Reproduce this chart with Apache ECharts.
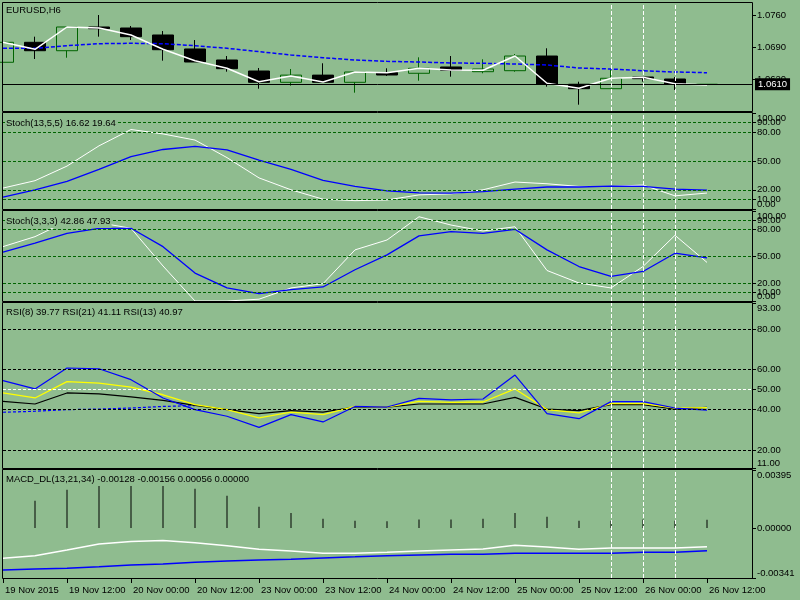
<!DOCTYPE html>
<html>
<head>
<meta charset="utf-8">
<title>EURUSD,H6</title>
<script src="https://cdn.jsdelivr.net/npm/echarts@6/dist/echarts.min.js"></script>
<style>
  html, body { margin: 0; padding: 0; background: #8fbc8f; }
  #main { width: 800px; height: 600px; }
</style>
</head>
<body>
<div id="main"></div>
<script>
// H6 bars, 19 Nov 2015 .. 26 Nov 12:00
const barTimes = [
  '19 Nov 2015', '19 Nov 06:00', '19 Nov 12:00', '19 Nov 18:00',
  '20 Nov 00:00', '20 Nov 06:00', '20 Nov 12:00', '20 Nov 18:00',
  '23 Nov 00:00', '23 Nov 06:00', '23 Nov 12:00', '23 Nov 18:00',
  '24 Nov 00:00', '24 Nov 06:00', '24 Nov 12:00', '24 Nov 18:00',
  '25 Nov 00:00', '25 Nov 06:00', '25 Nov 12:00', '25 Nov 18:00',
  '26 Nov 00:00', '26 Nov 06:00', '26 Nov 12:00'
]
const xTicks = [0, 2, 4, 6, 8, 10, 12, 14, 16, 18, 20, 22]
const vLineBars = [19, 20, 21]  // vertical dashed lines

// price
const opens  = [1.06581, 1.07018, 1.06834, 1.07353, 1.07331, 1.07178, 1.06872, 1.06631, 1.06390, 1.06143, 1.06300, 1.06143, 1.06353, 1.06340, 1.06478, 1.06375, 1.06397, 1.06718, 1.06100, 1.06003, 1.06259, 1.06215, 1.06095]
const closes = [1.07018, 1.06834, 1.07353, 1.07316, 1.07141, 1.06856, 1.06587, 1.06441, 1.06143, 1.06300, 1.06143, 1.06368, 1.06303, 1.06449, 1.06406, 1.06434, 1.06718, 1.06100, 1.06003, 1.06231, 1.06222, 1.06106, 1.06100]
const lows   = [1.06581, 1.06653, 1.06681, 1.07141, 1.07068, 1.06616, 1.06587, 1.06375, 1.06003, 1.06069, 1.06143, 1.05916, 1.06281, 1.06178, 1.06266, 1.06340, 1.06375, 1.06047, 1.05653, 1.06003, 1.06156, 1.05975, 1.06095]
const highs  = [1.07018, 1.07141, 1.07353, 1.07615, 1.07375, 1.07265, 1.07068, 1.06718, 1.06456, 1.06434, 1.06559, 1.06368, 1.06449, 1.06690, 1.06718, 1.06646, 1.06762, 1.06887, 1.06156, 1.06427, 1.06259, 1.06259, 1.06100]
const fastMa = [1.07018, 1.06865, 1.07353, 1.07331, 1.07178, 1.06865, 1.06616, 1.06449, 1.06156, 1.06281, 1.06150, 1.06368, 1.06353, 1.06449, 1.06412, 1.06406, 1.06718, 1.06121, 1.06012, 1.06231, 1.06252, 1.06112, 1.06084]
const slowMa = [1.06887, 1.06887, 1.06944, 1.06988, 1.06996, 1.06988, 1.06944, 1.06887, 1.06813, 1.06740, 1.06681, 1.06631, 1.06602, 1.06587, 1.06565, 1.06559, 1.06543, 1.06522, 1.06456, 1.06434, 1.06397, 1.06368, 1.06353]
const priceTicks = [1.0620, 1.0690, 1.0760]
const bidPrice = 1.0610

// Stoch(13,5,5)
const stochAK = [21.8, 29.5, 44.7, 65.8, 82.8, 78.2, 71.8, 53.5, 32.4, 20.0, 10.2, 8.7, 9.4, 14.7, 15.8, 20.0, 28.1, 26.3, 23.5, 23.5, 25.0, 13.7, 16.62]
const stochAD = [12.3, 20.0, 28.8, 41.2, 54.6, 62.0, 65.2, 61.6, 51.0, 41.2, 29.8, 23.5, 18.9, 16.8, 16.5, 18.2, 20.7, 22.9, 22.9, 23.9, 23.5, 20.7, 19.64]
// Stoch(3,3,3)
const stochBK = [60.4, 71.5, 88.6, 87.0, 80.8, 38.9, 0, 0, 2.0, 14.5, 19.2, 56.8, 67.8, 93.6, 84.4, 77.8, 82.5, 33.9, 20.0, 14.5, 38.3, 73.0, 42.86]
const stochBD = [54.3, 64.2, 75.2, 80.8, 80.8, 60.4, 31.0, 14.5, 8.2, 12.6, 15.6, 34.7, 51.3, 72.3, 77.0, 75.2, 79.7, 56.8, 38.3, 27.3, 32.8, 53.1, 47.93]
const stochTicks = [0, 20, 50, 80, 100]
const stochTicksInner = [10, 90]   // drawn on their own, they overlap 0 / 100
const stochLevels = [10, 20, 50, 80, 90]

// RSI
const rsi8  = [54.4, 50.3, 60.7, 60.3, 54.9, 45.8, 40.0, 36.7, 31.2, 37.5, 33.9, 41.6, 41.3, 45.6, 44.9, 45.3, 57.2, 38.0, 35.5, 44.0, 44.0, 40.8, 39.77]
const rsi13 = [48.3, 45.8, 53.9, 53.2, 51.2, 47.4, 42.5, 40.0, 35.9, 38.8, 37.5, 41.6, 41.3, 44.1, 43.6, 43.8, 50.3, 40.0, 38.4, 43.0, 43.0, 40.8, 40.97]
const rsi21 = [44.1, 42.8, 48.3, 47.8, 46.3, 44.6, 42.1, 40.0, 38.0, 39.5, 38.8, 41.3, 41.3, 42.8, 42.8, 42.8, 46.1, 40.3, 39.5, 42.5, 42.5, 40.3, 41.11]
const rsiAvg = [38.7, 39.2, 40.0, 40.3, 40.8, 41.6, 42.0]
const rsiTicks = [11, 20, 40, 50, 60, 80, 93]
const rsiLevels = [20, 40, 60, 80]
const rsiMid = 50

// MACD_DL(13,21,34)
const macdMain = [-0.00206, -0.00189, -0.00150, -0.00109, -0.00093, -0.00086, -0.00100, -0.00121, -0.00145, -0.00157, -0.00172, -0.00172, -0.00165, -0.00157, -0.00150, -0.00143, -0.00118, -0.00129, -0.00145, -0.00136, -0.00136, -0.00136, -0.00128]
const macdSignal = [-0.00286, -0.00279, -0.00275, -0.00264, -0.00252, -0.00245, -0.00234, -0.00225, -0.00218, -0.00213, -0.00204, -0.00197, -0.00189, -0.00184, -0.00179, -0.00179, -0.00172, -0.00172, -0.00172, -0.00172, -0.00165, -0.00165, -0.00156]
const macdHist = [null, 0.00186, 0.00261, 0.00300, 0.00310, 0.00300, 0.00268, 0.00220, 0.00145, 0.00102, 0.00063, 0.00050, 0.00045, 0.00057, 0.00057, 0.00063, 0.00102, 0.00077, 0.00050, 0.00050, 0.00057, 0.00050, 0.00056]
const macdTicks = [-0.00341, 0, 0.00395]

const BG = '#8fbc8f'
const FONT = 'Tahoma, "Liberation Sans", Arial, sans-serif'
const FS = 9.5
const LEFT = 3, WIDTH = 749
const BAR_PX = 32
const panes = [
  { top: 3, height: 108 },
  { top: 113, height: 96 },
  { top: 211, height: 90 },
  { top: 303, height: 165 },
  { top: 470, height: 108 }
]

const pts = arr => arr.map((v, i) => [i, v])

const vlines = () => vLineBars.map(b => ({ xAxis: b, lineStyle: { color: '#fff', type: [4, 2], width: 1 } }))
const levels = (vals, color) => vals.map(v => ({ yAxis: v, lineStyle: { color, type: [3, 2], width: 1 } }))
const markLine = data => ({ silent: true, precision: 6, symbol: ['none', 'none'], label: { show: false }, data })

const lineSeries = (g, data, color, width, extra) => Object.assign({
  type: 'line', xAxisIndex: g, yAxisIndex: g, data: pts(data),
  showSymbol: false, symbol: 'none', connectNulls: false,
  lineStyle: { color, width }
}, extra || {})

function yAxisFor(g, min, max, ticks, digits, edgeAlign) {
  const lab = {
    show: true, customValues: ticks, margin: 5, color: '#000',
    fontSize: FS, fontFamily: FONT, hideOverlap: false,
    showMinLabel: true, showMaxLabel: true,
    formatter: v => Number(v).toFixed(digits)
  }
  if (edgeAlign) {
    lab.verticalAlignMinLabel = 'bottom'
    lab.verticalAlignMaxLabel = 'top'
  }
  return {
    type: 'value', gridIndex: g, position: 'right', min, max, scale: true,
    splitLine: { show: false },
    axisLine: { show: false, onZero: false },
    axisTick: { show: true, inside: false, length: 4, customValues: ticks, lineStyle: { color: '#000' } },
    axisLabel: lab
  }
}

const xAxes = panes.map((p, g) => ({
  type: 'value', gridIndex: g, min: 0, max: WIDTH / BAR_PX, show: g === 4, position: 'bottom',
  splitLine: { show: false },
  axisLine: { show: false, onZero: false },
  axisTick: { show: true, inside: false, length: 5, customValues: xTicks, lineStyle: { color: '#000' } },
  axisLabel: {
    customValues: xTicks, formatter: v => barTimes[v] || '', align: 'left',
    showMinLabel: true, showMaxLabel: true,
    margin: 7, color: '#000', fontSize: FS, fontFamily: FONT, padding: [0, 0, 0, 2], hideOverlap: false
  }
}))

const titleTexts = [
  'EURUSD,H6',
  'Stoch(13,5,5) ' + stochAK[stochAK.length - 1].toFixed(2) + ' ' + stochAD[stochAD.length - 1].toFixed(2),
  'Stoch(3,3,3) ' + stochBK[stochBK.length - 1].toFixed(2) + ' ' + stochBD[stochBD.length - 1].toFixed(2),
  'RSI(8) ' + rsi8[rsi8.length - 1].toFixed(2) + ' RSI(21) ' + rsi21[rsi21.length - 1].toFixed(2) + ' RSI(13) ' + rsi13[rsi13.length - 1].toFixed(2),
  'MACD_DL(13,21,34) ' + macdMain[macdMain.length - 1].toFixed(5) + ' ' + macdSignal[macdSignal.length - 1].toFixed(5) + ' ' +
    macdHist[macdHist.length - 1].toFixed(5) + ' 0.00000'
]
const titleTops = [4, 117, 215, 306, 473]

const option = {
  backgroundColor: BG,
  animation: false,
  title: titleTexts.map((t, i) => ({
    text: t, left: 5, top: titleTops[i], padding: [1, 1, 1, 1], backgroundColor: BG,
    textStyle: { color: '#000', fontSize: FS, fontWeight: 'normal', fontFamily: FONT, lineHeight: 11 }
  })),
  grid: panes.map(p => ({ left: LEFT, width: WIDTH, top: p.top, height: p.height, outerBoundsMode: 'none', containLabel: false })),
  xAxis: xAxes,
  yAxis: [
    yAxisFor(0, 1.05515, 1.07878, priceTicks, 4, false),
    yAxisFor(1, 0, 100, stochTicks, 2, true),
    yAxisFor(2, 0, 100, stochTicks, 2, true),
    yAxisFor(3, 11, 93, rsiTicks, 2, true),
    yAxisFor(4, -0.00341, 0.00395, macdTicks, 5, true),
    yAxisFor(1, 0, 100, stochTicksInner, 2, false),
    yAxisFor(2, 0, 100, stochTicksInner, 2, false)
  ],
  series: [
    {
      type: 'candlestick', xAxisIndex: 0, yAxisIndex: 0, barWidth: 21,
      data: opens.map((o, i) => [i, o, closes[i], lows[i], highs[i]]),
      itemStyle: { color: 'rgba(0,0,0,0)', color0: '#000', borderColor: '#006400', borderColor0: '#000', borderWidth: 1 }
    },
    lineSeries(0, slowMa, '#0000ff', 1.5, { lineStyle: { color: '#0000ff', width: 1.5, type: [4, 2] } }),
    lineSeries(0, fastMa, '#ffffff', 1.5, {
      markLine: markLine([
        {
          yAxis: bidPrice, lineStyle: { color: '#000', type: 'solid', width: 1 },
          label: {
            show: true, position: 'end', distance: 3, formatter: () => bidPrice.toFixed(4),
            backgroundColor: '#000', color: '#fff', padding: [1, 3], fontSize: FS, fontFamily: FONT
          }
        }
      ].concat(vlines()))
    }),

    lineSeries(1, stochAK, '#ffffff', 1, { markLine: markLine(levels(stochLevels, '#006400').concat(vlines())) }),
    lineSeries(1, stochAD, '#0000ff', 1.3),

    lineSeries(2, stochBK, '#ffffff', 1, { markLine: markLine(levels(stochLevels, '#006400').concat(vlines())) }),
    lineSeries(2, stochBD, '#0000ff', 1.3),

    lineSeries(3, rsiAvg, '#0000ff', 1.2, {
      lineStyle: { color: '#0000ff', width: 1.2, type: [3, 2] },
      markLine: markLine(levels(rsiLevels, '#000')
        .concat([{ yAxis: rsiMid, lineStyle: { color: '#fff', type: [3, 2], width: 1 } }])
        .concat(vlines()))
    }),
    lineSeries(3, rsi21, '#000000', 1.2),
    lineSeries(3, rsi13, '#ffff00', 1.3),
    lineSeries(3, rsi8, '#0000ff', 1.2),

    {
      type: 'bar', xAxisIndex: 4, yAxisIndex: 4, barWidth: 1, data: pts(macdHist),
      itemStyle: { color: '#000' },
      markLine: markLine(vlines())
    },
    lineSeries(4, macdSignal, '#0000ff', 1.5),
    lineSeries(4, macdMain, '#ffffff', 1.5)
  ],
  graphic: panes.map(p => ({
    type: 'rect', z: 100, silent: true,
    shape: { x: LEFT - 0.5, y: p.top - 0.5, width: WIDTH + 1, height: p.height + 1 },
    style: { fill: 'none', stroke: '#000', lineWidth: 1 }
  }))
}

const myChart = echarts.init(document.getElementById('main'), null, { renderer: 'canvas' })
myChart.setOption(option)
window.onresize = () => {
  myChart.resize()
}
</script>
</body>
</html>
